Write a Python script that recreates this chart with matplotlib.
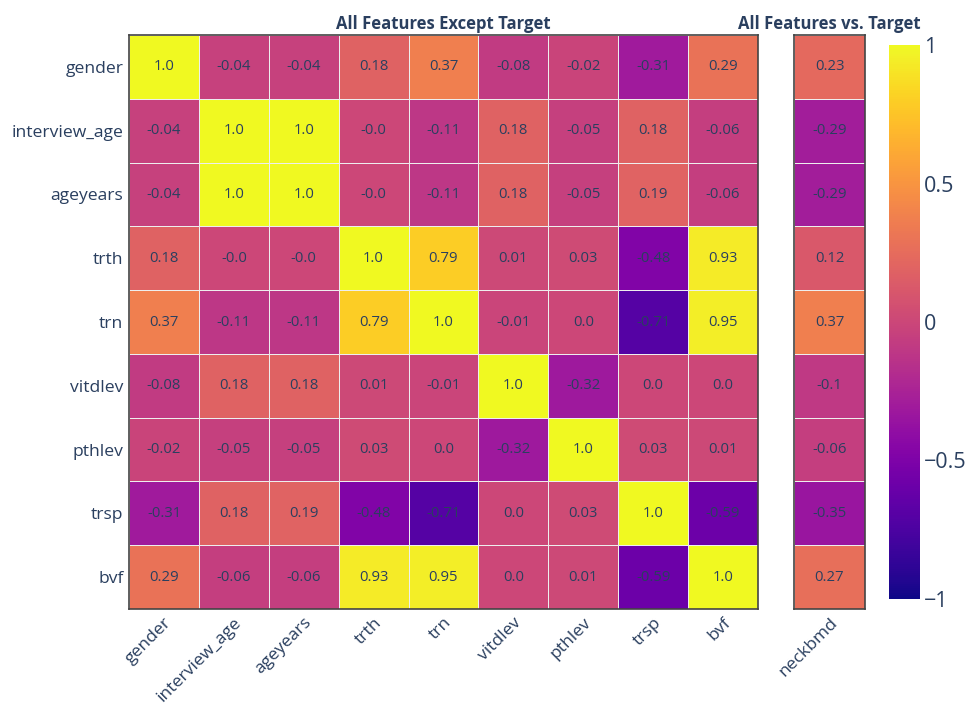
import numpy as np
import matplotlib.pyplot as plt
from matplotlib.colors import Normalize

plt.rcParams["font.family"] = ["Open Sans", "DejaVu Sans"]

features = ["gender", "interview_age", "ageyears", "trth", "trn",
            "vitdlev", "pthlev", "trsp", "bvf"]
target = "neckbmd"

corr = [
    [1.0, -0.04, -0.04, 0.18, 0.37, -0.08, -0.02, -0.31, 0.29],
    [-0.04, 1.0, 1.0, -0.0, -0.11, 0.18, -0.05, 0.18, -0.06],
    [-0.04, 1.0, 1.0, -0.0, -0.11, 0.18, -0.05, 0.19, -0.06],
    [0.18, -0.0, -0.0, 1.0, 0.79, 0.01, 0.03, -0.48, 0.93],
    [0.37, -0.11, -0.11, 0.79, 1.0, -0.01, 0.0, -0.71, 0.95],
    [-0.08, 0.18, 0.18, 0.01, -0.01, 1.0, -0.32, 0.0, 0.0],
    [-0.02, -0.05, -0.05, 0.03, 0.0, -0.32, 1.0, 0.03, 0.01],
    [-0.31, 0.18, 0.19, -0.48, -0.71, 0.0, 0.03, 1.0, -0.59],
    [0.29, -0.06, -0.06, 0.93, 0.95, 0.0, 0.01, -0.59, 1.0],
]
corr_target = [0.23, -0.29, -0.29, 0.12, 0.37, -0.1, -0.06, -0.35, 0.27]

TEXT = "#2a3f5f"
FRAME = "#444444"
W, H = 967, 704

fig = plt.figure(figsize=(W / 100, H / 100), dpi=100)
norm = Normalize(-1, 1)
cmap = plt.get_cmap("plasma")


def box(x0, y0, x1, y1):
    return [x0 / W, 1 - y1 / H, (x1 - x0) / W, (y1 - y0) / H]


def draw(ax, data, xlabels, ylabels):
    data = np.array(data)
    ax.pcolormesh(data, cmap=cmap, norm=norm, edgecolors="#eeeeee",
                  linewidth=0.5)
    ax.set_xlim(0, data.shape[1])
    ax.set_ylim(data.shape[0], 0)
    for i in range(data.shape[0]):
        for j in range(data.shape[1]):
            ax.text(j + 0.5, i + 0.5, str(data[i, j]), ha="center",
                    va="center", fontsize=10.7, color=TEXT)
    ax.set_xticks(np.arange(data.shape[1]) + 0.5)
    ax.set_xticklabels(xlabels, rotation=45, ha="right",
                       rotation_mode="anchor", fontsize=12.6, color=TEXT)
    ax.set_yticks(np.arange(data.shape[0]) + 0.5)
    if ylabels is None:
        ax.set_yticklabels([])
    else:
        ax.set_yticklabels(ylabels, fontsize=12.6, color=TEXT)
    ax.tick_params(length=0, pad=4)
    for s in ax.spines.values():
        s.set_color(FRAME)
        s.set_linewidth(1.2)


ax1 = fig.add_axes(box(129, 35, 758, 609))
draw(ax1, corr, features, features)
ax1.set_title("All Features Except Target", fontsize=12,
              fontweight="bold", color=TEXT, pad=4)

ax2 = fig.add_axes(box(794, 35, 865, 609))
draw(ax2, np.array(corr_target).reshape(-1, 1), [target], None)
ax2.set_title("All Features vs. Target", fontsize=12,
              fontweight="bold", color=TEXT, pad=4)

cax = fig.add_axes(box(889, 45, 920, 599))
cb = fig.colorbar(plt.cm.ScalarMappable(norm=norm, cmap=cmap), cax=cax)
cb.set_ticks([-1, -0.5, 0, 0.5, 1])
cb.set_ticklabels(["\u22121", "\u22120.5", "0", "0.5", "1"])
cb.outline.set_visible(False)
cax.tick_params(length=0, labelsize=15.5, labelcolor=TEXT, pad=3)

plt.savefig("out.png", dpi=100)
